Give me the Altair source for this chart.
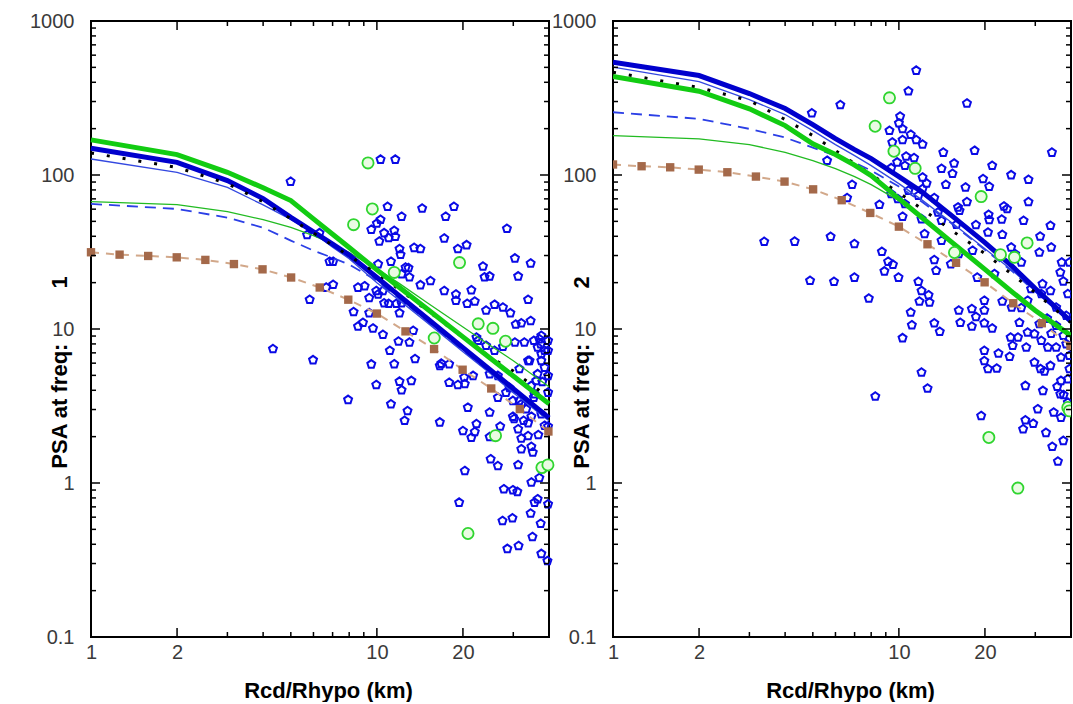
import altair as alt
import pandas as pd

# ---------------- data ----------------
R_GRID = [1, 2, 3, 4, 5, 6, 7, 8, 10, 12, 15, 20, 25, 30, 40]

# panel 1 (freq 1)
P1_THICK_GREEN = [169.1, 135.7, 104.1, 82.6, 68.2, 51.9, 41.2, 33.8, 24.2, 18.6, 13.5, 8.89, 6.44, 4.95, 3.27]
P1_THICK_BLUE = [149.2, 120.9, 92.0, 70.3, 53.1, 42.8, 35.6, 30.2, 21.6, 16.4, 11.7, 7.57, 5.40, 4.10, 2.65]
P1_DOTTED = [139.0, 112.0, 88.0, 67.0, 52.0, 42.0, 35.0, 29.8, 23.0, 18.0, 13.2, 8.81, 6.55, 5.33, 3.58]
P1_THIN_BLUE = [127.0, 104.0, 83.0, 64.0, 51.5, 42.0, 34.0, 28.6, 20.0, 15.3, 11.0, 7.12, 5.12, 3.86, 2.54]
P1_DASH_BLUE = [64.9, 60.2, 52.9, 45.5, 37.5, 32.3, 29.0, 26.2, 20.6, 15.7, 11.3, 7.23, 5.20, 3.91, 2.54]
P1_THIN_GREEN = [67.2, 64.2, 57.8, 51.3, 45.7, 40.4, 35.7, 31.3, 24.6, 19.7, 14.8, 10.3, 7.79, 6.22, 4.22]

# panel 2 (freq 2)
P2_THICK_GREEN = [435.9, 349.9, 268.9, 209.4, 159.3, 135.7, 116.0, 99.1, 70.3, 53.2, 37.8, 24.4, 17.3, 13.2, 9.05]
P2_THICK_BLUE = [539.9, 442.4, 338.0, 270.0, 212.5, 172.4, 146.2, 127.8, 97.6, 78.0, 56.1, 36.4, 25.4, 18.3, 11.2]
P2_DOTTED = [464.8, 369.8, 304.3, 229.1, 180.3, 144.0, 118.6, 100.6, 76.8, 60.5, 44.8, 30.9, 22.5, 17.2, 10.99]
P2_THIN_BLUE = [502.5, 404.5, 309.0, 246.9, 194.3, 157.6, 133.7, 115.1, 87.9, 69.2, 50.5, 33.2, 23.9, 17.7, 10.9]
P2_DASH_BLUE = [255.5, 231.5, 199.3, 175.0, 150.7, 133.7, 120.4, 106.8, 84.1, 67.2, 49.8, 32.7, 23.6, 17.5, 11.0]
P2_THIN_GREEN = [180.3, 171.6, 157.6, 140.4, 124.0, 110.0, 97.6, 86.6, 68.2, 52.9, 38.0, 24.6, 17.5, 13.2, 8.91]

# brown squares (same distances in both panels)
SQ_R = [1.0, 1.259, 1.585, 1.995, 2.512, 3.162, 3.981, 5.012, 6.310, 7.943,
        10.0, 12.59, 15.85, 19.95, 25.12, 31.62, 39.81]
SQ1_PSA = [31.5, 30.4, 29.8, 29.2, 28.1, 26.4, 24.4, 21.6, 18.6, 15.5,
           12.6, 9.65, 7.41, 5.44, 4.11, 3.02, 2.16]
SQ2_PSA = [117.0, 114.0, 112.2, 108.4, 104.2, 97.7, 90.6, 80.7, 68.6, 56.7,
           46.2, 35.5, 26.9, 20.1, 14.7, 10.9, 7.78]

# green circles
C1_R = [9.31, 9.64, 8.29, 19.46, 11.50, 22.62, 25.46, 28.18, 15.87, 26.00, 37.78, 39.65, 20.83]
C1_PSA = [119.8, 60.2, 47.6, 27.0, 23.3, 10.8, 10.1, 8.33, 8.74, 2.03, 1.26, 1.31, 0.47]
C2_R = [9.27, 8.26, 9.61, 11.40, 19.40, 28.09, 22.66, 25.36, 15.65, 38.98, 39.49, 20.64, 26.07]
C2_PSA = [317.0, 207.2, 142.6, 110.5, 72.4, 36.2, 30.4, 29.2, 31.4, 3.09, 2.94, 1.976, 0.927]

# blue pentagon records, panel 1
P1_R = [4.99, 5.70, 6.30, 6.83, 7.03, 7.03, 6.65, 5.82, 8.59, 8.29, 8.59, 4.33, 5.98, 7.93,
        10.3, 11.6, 10.9, 12.2, 14.4, 17.4, 18.6, 10.3, 10.0, 9.56, 10.2, 10.6, 11.0, 11.5,
        11.6, 17.2, 28.5, 12.0, 12.1, 13.5, 14.2, 19.2, 20.6, 23.5, 30.4, 34.5, 23.8, 24.8,
        31.2, 10.1, 11.2, 12.6, 12.9, 12.2, 13.0, 15.4, 14.2, 17.2, 18.9, 21.4, 20.7, 22.0,
        24.1, 27.6, 29.3, 33.8, 32.0, 34.5, 9.06, 9.40, 10.1, 10.6, 11.0, 11.7, 12.2, 9.40,
        12.0, 9.95, 10.5, 18.9, 25.8, 30.6, 8.94, 9.69, 10.5, 13.4, 13.0, 11.1, 9.56, 11.5,
        13.6, 16.6, 17.9, 17.9, 19.2, 20.3, 12.0, 13.2, 12.2, 9.95, 22.3, 22.6, 24.1, 25.8,
        27.6, 30.4, 32.8, 35.4, 37.0, 36.5, 38.6, 33.8, 37.6, 38.6, 36.5, 31.5, 26.5, 24.8,
        36.1, 29.1, 29.9, 32.0, 33.3, 26.5, 28.3, 35.4, 39.7, 11.2, 12.8, 12.5, 16.6, 20.8,
        22.3, 24.8, 29.9, 32.6, 34.7, 37.6, 38.6, 11.9, 16.8, 20.2, 21.7, 20.0, 21.4, 22.0,
        24.8, 27.0, 30.2, 31.2, 33.8, 32.0, 33.8, 36.7, 39.7, 32.0, 34.7, 35.1, 25.0, 26.5,
        31.2, 20.3, 34.7, 37.0, 27.8, 29.9, 31.0, 19.4, 35.6, 36.5, 39.7, 34.5, 27.5, 29.8,
        37.4, 39.7, 39.7, 37.6, 37.4, 37.6, 34.2, 37.9, 39.7, 34.7, 35.6, 31.5, 28.6, 35.0,
        37.6, 39.5, 31.3]
P1_PSA = [90.6, 40.8, 42.0, 27.4, 27.4, 19.4, 18.6, 15.5, 18.6, 12.9, 10.4, 7.42, 6.29, 3.47,
          126.0, 126.0, 62.3, 53.7, 60.7, 53.7, 62.3, 51.3, 48.5, 44.2, 37.1, 42.0, 39.0, 43.5,
          39.8, 38.8, 44.8, 33.1, 30.4, 33.7, 33.1, 33.1, 35.1, 25.5, 28.8, 26.7, 21.7, 22.0,
          22.0, 26.4, 27.4, 25.1, 24.9, 22.7, 21.7, 20.5, 19.3, 17.7, 16.8, 17.9, 14.6, 15.1,
          13.2, 13.8, 12.7, 15.5, 10.9, 11.3, 19.0, 15.9, 16.8, 14.7, 14.6, 14.6, 14.7, 12.7,
          12.7, 17.7, 17.7, 15.3, 14.4, 10.7, 11.0, 10.1, 9.18, 9.75, 8.18, 7.23, 5.90, 5.92,
          6.39, 5.77, 5.92, 4.49, 4.34, 4.40, 4.56, 4.61, 4.01, 4.34, 8.82, 8.39, 7.79, 7.23,
          7.68, 8.18, 8.18, 8.39, 8.60, 7.60, 7.23, 6.22, 6.22, 5.62, 5.10, 5.50, 4.97, 5.10,
          4.61, 4.15, 3.42, 3.25, 3.02, 3.59, 3.87, 3.59, 3.87, 3.25, 2.94, 2.54, 2.48, 3.09,
          2.42, 2.87, 2.70, 2.54, 2.70, 2.80, 2.36, 8.30, 5.97, 4.85, 4.97, 2.18, 1.97, 2.15,
          1.99, 2.33, 2.61, 2.24, 2.45, 1.95, 2.02, 2.05, 2.33, 1.66, 1.72, 1.58, 1.43, 1.29,
          1.31, 1.20, 1.01, 1.08, 0.913, 0.90, 0.877, 0.747, 0.747, 0.786, 0.728, 0.634, 0.568, 0.591,
          0.545, 8.39, 7.23, 9.05, 7.98, 6.88, 6.22, 4.54, 4.97, 4.28, 3.78, 3.42, 0.374, 0.447,
          0.347, 0.312, 0.391]

# blue pentagon records, panel 2
P2_R = [4.96, 4.32, 5.77, 5.61, 6.24, 3.38, 5.93, 6.99, 4.89, 11.5, 10.8, 17.3, 10.1, 10.0,
        10.3, 9.27, 11.0, 11.5, 12.1, 10.3, 9.48, 14.3, 18.4, 34.3, 10.6, 11.3, 9.86, 10.5,
        9.40, 15.6, 21.2, 14.1, 15.4, 24.7, 28.4, 19.7, 12.1, 12.5, 12.1, 14.6, 17.1, 20.7,
        6.86, 8.55, 9.40, 10.8, 11.7, 9.91, 10.5, 13.3, 6.59, 16.1, 16.3, 17.3, 20.6, 20.7,
        22.9, 23.3, 23.9, 28.4, 27.3, 31.2, 33.9, 20.5, 23.0, 18.6, 13.7, 12.0, 14.1, 15.9,
        12.3, 14.1, 10.3, 6.99, 8.72, 9.17, 8.90, 9.53, 9.97, 7.85, 11.7, 12.0, 12.7, 11.8,
        13.5, 13.3, 15.2, 16.2, 18.1, 18.8, 21.6, 24.7, 25.5, 26.8, 31.0, 34.1, 37.1, 36.7,
        37.6, 31.8, 33.9, 31.5, 29.0, 28.2, 26.8, 23.0, 24.8, 19.9, 18.0, 16.2, 11.0, 35.5,
        39.0, 38.5, 39.5, 12.8, 11.1, 10.3, 13.3, 13.9, 16.4, 18.6, 19.9, 18.0, 19.9, 21.2,
        12.0, 12.6, 8.27, 19.9, 22.3, 19.9, 20.5, 22.0, 24.4, 25.0, 26.1, 27.9, 24.6, 26.4,
        28.2, 29.8, 31.5, 33.2, 35.5, 36.9, 38.5, 39.5, 29.8, 31.3, 32.3, 33.9, 27.7, 31.9,
        35.8, 36.9, 39.0, 39.5, 36.7, 37.7, 30.6, 34.8, 36.9, 19.4, 27.7, 27.2, 29.5, 34.4,
        36.0, 39.0, 32.7, 37.6, 33.0, 35.5, 37.6, 34.1, 31.0]
P2_PSA = [252.0, 37.0, 39.8, 124.0, 285.0, 36.9, 20.3, 21.6, 20.6, 477.0, 350.0, 292.0, 240.0, 217.0,
          199.0, 194.0, 183.0, 169.0, 158.0, 169.0, 163.0, 140.0, 144.0, 140.0, 132.0, 129.0, 121.0, 115.0,
          111.0, 119.0, 115.0, 110.0, 102.0, 100.0, 93.3, 94.3, 96.6, 88.3, 81.2, 86.6, 83.2, 84.1,
          86.6, 64.2, 75.3, 79.1, 73.5, 69.9, 64.9, 71.0, 71.0, 61.7, 58.7, 66.9, 55.3, 51.1,
          51.5, 62.6, 60.2, 66.9, 50.5, 39.9, 46.9, 42.4, 41.0, 47.4, 57.2, 51.8, 50.5, 47.6,
          41.4, 37.5, 53.7, 35.7, 31.8, 27.4, 23.7, 26.2, 21.6, 15.8, 20.3, 17.7, 16.6, 15.1,
          23.9, 28.1, 26.4, 30.7, 32.3, 21.6, 22.8, 33.9, 30.7, 27.1, 31.4, 33.9, 27.1, 23.3,
          20.4, 19.6, 17.7, 16.9, 18.2, 15.3, 13.7, 15.1, 13.8, 15.3, 13.5, 13.2, 12.8, 13.8,
          16.9, 12.2, 27.1, 14.9, 10.6, 8.74, 10.9, 9.60, 11.0, 12.0, 13.2, 10.4, 10.9, 10.1,
          5.22, 4.11, 3.65, 7.23, 6.94, 6.20, 5.50, 5.55, 6.61, 7.79, 8.82, 7.59, 8.82, 11.0,
          9.50, 9.28, 8.39, 7.59, 7.59, 6.54, 7.99, 6.71, 6.07, 5.50, 5.30, 5.77, 4.28, 3.97,
          4.22, 4.61, 4.73, 5.50, 3.78, 3.73, 3.02, 2.87, 2.66, 2.73, 2.56, 2.24, 2.43, 1.72,
          1.38, 3.33, 2.12, 1.88, 11.7, 10.5, 9.05, 9.32, 10.8]

# axis tick values and labels
X_MAJOR_TICKS = [1, 2, 10, 20]
X_MINOR_TICKS = [3, 4, 5, 6, 7, 8, 9, 30]
X_LABELS = [1, 2, 10, 20]
Y_MAJOR_TICKS = [0.1, 1, 10, 100, 1000]
Y_MINOR_TICKS = [0.2, 0.3, 0.4, 0.5, 0.6, 0.7, 0.8, 0.9,
                 2, 3, 4, 5, 6, 7, 8, 9,
                 20, 30, 40, 50, 60, 70, 80, 90,
                 200, 300, 400, 500, 600, 700, 800, 900]
Y_LABELS = [0.1, 1, 10, 100, 1000]

# ---------------- styling ----------------
W, H = 458, 616
MAJ, MIN = 9, 5
FONT = "Liberation Sans"
NBSP = "\u00a0"
PENT = "M0,-1L0.951,-0.309L0.588,0.809L-0.588,0.809L-0.951,-0.309Z"


def frame(r, v):
    return pd.DataFrame({"R": r, "PSA": v})


def make_panel(freq, pr, pv, cr, cv, sq_v, lines, clip):
    xs = alt.Scale(type="log", domain=[1, 40], nice=False)
    ys = alt.Scale(type="log", domain=[0.1, 1000], nice=False)

    def enc(ax_x=None, ax_y=None):
        return dict(x=alt.X("R:Q", scale=xs, axis=ax_x),
                    y=alt.Y("PSA:Q", scale=ys, axis=ax_y))

    x_main = alt.Axis(orient="bottom", values=X_LABELS, labelExpr="'' + datum.value",
                      ticks=False, domain=False, grid=False, labelPadding=5,
                      labelFlush=False, labelOverlap=False,
                      title="Rcd/Rhypo (km)", titleX=237, titleY=43,
                      titleBaseline="top", titleAlign="center")
    y_main = alt.Axis(orient="left", values=Y_LABELS, labelExpr="'' + datum.value",
                      ticks=False, domain=False, grid=False, labelPadding=17,
                      labelFlush=False, labelOverlap=False,
                      title="PSA at freq:" + NBSP * 9 + freq,
                      titleX=-32, titleY=351, titleAngle=270,
                      titleBaseline="middle", titleAlign="center")

    layers = []
    layers.append(
        alt.Chart(frame(pr, pv)).mark_point(shape=PENT, size=70, filled=False,
                                             color="#0A0AE6", strokeWidth=2.0,
                                             opacity=1, clip=clip)
        .encode(**enc(x_main, y_main))
    )
    for vals, color, width, dash in lines:
        kw = dict(color=color, strokeWidth=width, clip=clip)
        if dash:
            kw["strokeDash"] = dash
        layers.append(alt.Chart(frame(R_GRID, vals)).mark_line(**kw).encode(**enc()))
    layers.append(
        alt.Chart(frame(SQ_R, sq_v)).mark_line(color="#D2A88A", strokeWidth=2,
                                               strokeDash=[8, 7], clip=clip)
        .encode(**enc())
    )
    layers.append(
        alt.Chart(frame(SQ_R, sq_v)).mark_square(size=70, color="#A4694A",
                                                 opacity=1, clip=clip)
        .encode(**enc())
    )
    layers.append(
        alt.Chart(frame(cr, cv)).mark_point(shape="circle", size=125, filled=True,
                                             fill="#EAFBE3", stroke="#2FD52F",
                                             strokeWidth=1.8, opacity=1, clip=clip)
        .encode(**enc())
    )

    # inward ticks on all four sides, positioned through the same scales
    rule = dict(color="black", strokeWidth=1.5)
    for vals, ln in ((Y_MAJOR_TICKS, MAJ), (Y_MINOR_TICKS, MIN)):
        d = pd.DataFrame({"PSA": vals})
        ych = alt.Y("PSA:Q", scale=ys, axis=None)
        layers.append(alt.Chart(d).mark_rule(**rule).encode(
            y=ych, x=alt.value(0), x2=alt.value(ln)))
        layers.append(alt.Chart(d).mark_rule(**rule).encode(
            y=ych, x=alt.value(W), x2=alt.value(W - ln)))
    for vals, ln in ((X_MAJOR_TICKS, MAJ), (X_MINOR_TICKS, MIN)):
        d = pd.DataFrame({"R": vals})
        xch = alt.X("R:Q", scale=xs, axis=None)
        layers.append(alt.Chart(d).mark_rule(**rule).encode(
            x=xch, y=alt.value(H), y2=alt.value(H - ln)))
        layers.append(alt.Chart(d).mark_rule(**rule).encode(
            x=xch, y=alt.value(0), y2=alt.value(ln)))

    return (alt.layer(*layers)
            .resolve_axis(x="independent", y="independent")
            .properties(width=W, height=H))


def line_set(dash_blue, thin_blue, thin_green, thick_blue, dotted, thick_green):
    return [
        (dash_blue, "#2B3FE6", 1.8, [11, 7]),
        (thin_blue, "#3348E0", 1.3, None),
        (thin_green, "#22BB22", 1.3, None),
        (thick_blue, "#0000CD", 5, None),
        (dotted, "#000000", 3, [3, 13]),
        (thick_green, "#12CC12", 5, None),
    ]


p1 = make_panel("1", P1_R, P1_PSA, C1_R, C1_PSA, SQ1_PSA,
                line_set(P1_DASH_BLUE, P1_THIN_BLUE, P1_THIN_GREEN,
                         P1_THICK_BLUE, P1_DOTTED, P1_THICK_GREEN), clip=False)
p2 = make_panel("2", P2_R, P2_PSA, C2_R, C2_PSA, SQ2_PSA,
                line_set(P2_DASH_BLUE, P2_THIN_BLUE, P2_THIN_GREEN,
                         P2_THICK_BLUE, P2_DOTTED, P2_THICK_GREEN), clip=True)

chart = (
    alt.hconcat(p1, p2, spacing=64, bounds="flush")
    .properties(padding={"left": 28, "top": 10, "right": 0, "bottom": 0},
                background="white")
    .configure_view(stroke="black", strokeWidth=2)
    .configure_axis(labelFont=FONT, labelFontSize=20, labelColor="#3a3a3a",
                    titleFont=FONT, titleFontSize=22, titleFontWeight="bold",
                    titleColor="black")
)

chart.save("out.html", embed_options={"renderer": "svg", "actions": False})
